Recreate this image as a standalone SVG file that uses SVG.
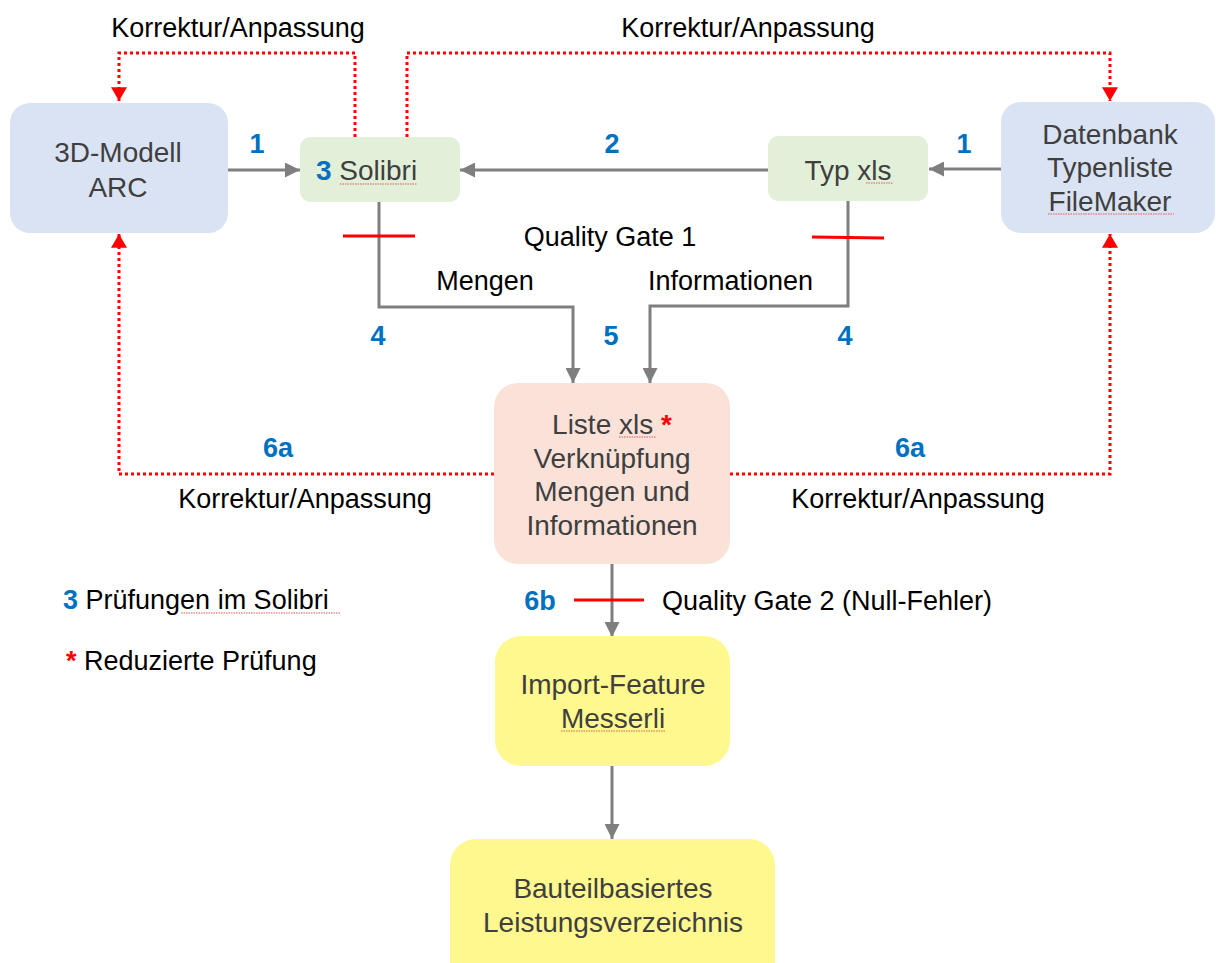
<svg xmlns="http://www.w3.org/2000/svg" width="1216" height="963" viewBox="0 0 1216 963">
<style>
text{font-family:"Liberation Sans",Arial,sans-serif}
.nt{font-size:28px;fill:#3f3f3f;text-anchor:middle}
.lb{font-size:27px;fill:#000}
.num{font-size:27px;font-weight:bold;fill:#0070c0}
.c{text-anchor:middle}
.gray{fill:none;stroke:#7f7f7f;stroke-width:3}
.red{fill:none;stroke:#ff0000;stroke-width:3;stroke-dasharray:3 3}
.tick{stroke:#ff0000;stroke-width:3}
.sq{fill:none;stroke:#e05a5a;stroke-width:1.2;stroke-dasharray:1.5 1}
.blue{fill:#dae3f3}
.green{fill:#e2efd9}
.salmon{fill:#fbe2d8}
.yellow{fill:#fff88f}
</style>
<defs>
<marker id="ag" markerUnits="userSpaceOnUse" markerWidth="15" markerHeight="15" viewBox="0 0 14 14" refX="14" refY="7" orient="auto"><path d="M0,0 L14,7 L0,14 z" fill="#7f7f7f"/></marker>
<marker id="ar" markerUnits="userSpaceOnUse" markerWidth="16" markerHeight="16" viewBox="0 0 13 15" refX="13" refY="7.5" orient="auto"><path d="M0,0 L13,7.5 L0,15 z" fill="#ff0000"/></marker>
</defs>
<rect width="1216" height="963" fill="#fff"/>

<g id="connectors">
<path class="red" d="M355,137 V53 H119 V101" marker-end="url(#ar)"/>
<path class="red" d="M407,137 V53 H1110 V101" marker-end="url(#ar)"/>
<path class="red" d="M494,474 H119 V234" marker-end="url(#ar)"/>
<path class="red" d="M730,474 H1110 V234" marker-end="url(#ar)"/>
<path class="gray" d="M228,170 H300" marker-end="url(#ag)"/>
<path class="gray" d="M768,170 H460" marker-end="url(#ag)"/>
<path class="gray" d="M1001,169 H929" marker-end="url(#ag)"/>
<path class="gray" d="M379,202 V307 H573 V383" marker-end="url(#ag)"/>
<path class="gray" d="M848,201 V306 H650 V383" marker-end="url(#ag)"/>
<path class="gray" d="M612,564 V637" marker-end="url(#ag)"/>
<path class="gray" d="M612,766 V839" marker-end="url(#ag)"/>
<line class="tick" x1="343" y1="236" x2="415" y2="236"/>
<line class="tick" x1="812" y1="237" x2="884" y2="238"/>
<line class="tick" x1="574" y1="600" x2="644" y2="600"/>
</g>

<g id="labels">
<text class="lb c" x="238" y="37">Korrektur/Anpassung</text>
<text class="lb c" x="748" y="37">Korrektur/Anpassung</text>
<text class="num c" x="257" y="153">1</text>
<text class="num c" x="612" y="153">2</text>
<text class="num c" x="964" y="153">1</text>
<text class="lb c" x="610" y="246">Quality Gate 1</text>
<text class="lb c" x="485" y="290">Mengen</text>
<text class="lb" x="648" y="290">Informationen</text>
<text class="num c" x="378" y="345">4</text>
<text class="num c" x="611" y="345">5</text>
<text class="num c" x="845" y="345">4</text>
<text class="num c" x="278" y="457">6a</text>
<text class="num c" x="910" y="457">6a</text>
<text class="lb c" x="305" y="508">Korrektur/Anpassung</text>
<text class="lb c" x="918" y="508">Korrektur/Anpassung</text>
<text class="num c" x="540" y="610">6b</text>
<text class="lb" x="662" y="610">Quality Gate 2 (Null-Fehler)</text>
<text class="lb" x="63" y="609"><tspan class="num">3</tspan> Prüfungen im Solibri</text>
<line class="sq" x1="181" y1="613" x2="340" y2="613"/>
<text class="lb" x="66" y="670"><tspan font-weight="bold" fill="#ff0000">*</tspan> Reduzierte Prüfung</text>
</g>

<g id="node-3dmodell">
<rect class="blue" x="10" y="103" width="218" height="130" rx="20"/>
<text class="nt" x="118" y="162">3D-Modell</text>
<text class="nt" x="118" y="197">ARC</text>
</g>

<g id="node-solibri">
<rect class="green" x="300" y="137" width="160" height="65" rx="11"/>
<text class="nt" x="316" y="180" text-anchor="start" style="text-anchor:start"><tspan font-weight="bold" fill="#0070c0">3</tspan> Solibri</text>
<line class="sq" x1="340" y1="184" x2="417" y2="184"/>
</g>

<g id="node-typxls">
<rect class="green" x="768" y="136" width="160" height="65" rx="11"/>
<text class="nt" x="848" y="180">Typ xls</text>
<line class="sq" x1="866" y1="183" x2="893" y2="183"/>
</g>

<g id="node-datenbank">
<rect class="blue" x="1001" y="102" width="214" height="131" rx="20"/>
<text class="nt" x="1110" y="144">Datenbank</text>
<text class="nt" x="1110" y="177">Typenliste</text>
<text class="nt" x="1110" y="211">FileMaker</text>
<line class="sq" x1="1048" y1="214" x2="1174" y2="214"/>
</g>

<g id="node-liste">
<rect class="salmon" x="494" y="383" width="236" height="181" rx="24"/>
<text class="nt" x="612" y="434">Liste xls <tspan font-weight="bold" fill="#ff0000">*</tspan></text>
<line class="sq" x1="619" y1="437" x2="656" y2="437"/>
<text class="nt" x="612" y="468">Verknüpfung</text>
<text class="nt" x="612" y="501">Mengen und</text>
<text class="nt" x="612" y="535">Informationen</text>
</g>

<g id="node-import">
<rect class="yellow" x="495" y="636" width="235" height="130" rx="26"/>
<text class="nt" x="613" y="694">Import-Feature</text>
<text class="nt" x="613" y="728">Messerli</text>
<line class="sq" x1="561" y1="731" x2="666" y2="731"/>
</g>

<g id="node-bauteil">
<rect class="yellow" x="450" y="839" width="325" height="150" rx="26"/>
<text class="nt" x="613" y="898">Bauteilbasiertes</text>
<text class="nt" x="613" y="932">Leistungsverzeichnis</text>
</g>
</svg>
